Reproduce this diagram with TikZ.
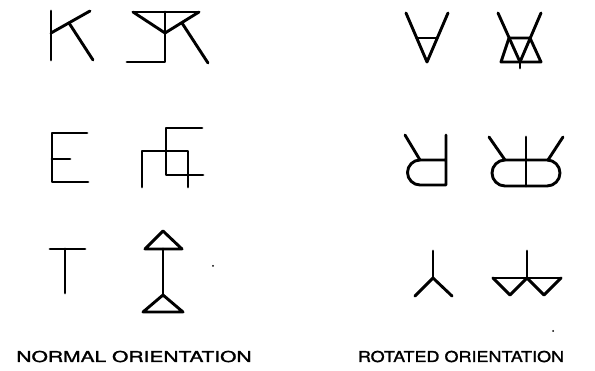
\documentclass[tikz,border=0pt]{standalone}
\usepackage{fontspec}
\setmainfont{TeX Gyre Heros}
\newfontfamily\plotterfont[FakeBold=1.2]{TeX Gyre Heros}
\usepackage{graphicx}
\tikzset{
  glyph/.style={line width=2.9pt, line cap=round, line join=round, black},
  caption/.style={inner sep=0pt, anchor=base, font=\plotterfont\fontsize{15}{18}\selectfont},
  speck/.style={fill=black, draw=none}
}
\begin{document}
\begin{tikzpicture}[x=1pt,y=-1pt]
\useasboundingbox (0,0) rectangle (595,371);
% ---- NORMAL ORIENTATION ----
% K
\draw[glyph] (51,11)--(51,60);
\draw[glyph] (51,33)--(90,11);
\draw[glyph] (69,23)--(93,60);
% KR
\draw[glyph] (133,12)--(199,12);
\draw[glyph] (133,12)--(165,33)--(199,12);
\draw[glyph] (165,12)--(165,62)--(127,62);
\draw[glyph] (182,23)--(208,63);
% E
\draw[glyph] (87,133)--(52,133)--(52,182)--(88,182);
\draw[glyph] (52,159)--(70,159);
% E composite
\draw[glyph] (202,128)--(166,128)--(166,175)--(203,175);
\draw[glyph] (142,187)--(142,151)--(188,151)--(188,187);
% T
\draw[glyph] (50,249)--(85,249);
\draw[glyph] (65,249)--(65,293);
% arrow glyph
\draw[glyph] (163,231)--(182,249)--(145,249)--cycle;
\draw[glyph] (163,249)--(163,295);
\draw[glyph] (163,295)--(183,312)--(143,312)--cycle;
% ---- ROTATED ORIENTATION ----
% inverted A
\draw[glyph] (406,13)--(427,62)--(448,13);
\draw[glyph] (417,38)--(437,38);
\draw[glyph] (498,13)--(520,62)--(541,13);
\draw[glyph] (509,38)--(530,38)--(541,62)--(501,62)--cycle;
\draw[glyph] (520,62)--(520,68);
% rotated R
\draw[glyph] (446,135)--(446,185)--(420,185)
   .. controls (413.1,185) and (407.5,179.4) .. (407.5,172.5)
   .. controls (407.5,165.6) and (413.1,160) .. (420,160)--(446,160);
\draw[glyph] (405,135)--(420,160);
% double R
\draw[glyph, rounded corners=13pt] (492,160) rectangle (560,186);
\draw[glyph] (526,137)--(526,186);
\draw[glyph] (489,137)--(505,160);
\draw[glyph] (563,137)--(548,160);
% Y
\draw[glyph] (433,251)--(433,278);
\draw[glyph] (415,296)--(433,278)--(452,296);
% double Y
\draw[glyph] (527,251)--(527,278);
\draw[glyph] (493,278)--(561,278);
\draw[glyph] (493,278)--(510,295)--(527,278)--(544,295)--(561,278);
% specks
\fill[speck] (213,266) circle (1pt);
\fill[speck] (553,331) circle (1pt);
% captions
\node[caption] (normal) at (134,362) {\scalebox{1.4}[1]{NORMAL ORIENTATION}};
\node[caption] (rotated) at (461,362) {\scalebox{1.2}[1]{ROTATED ORIENTATION}};
\end{tikzpicture}
\end{document}
